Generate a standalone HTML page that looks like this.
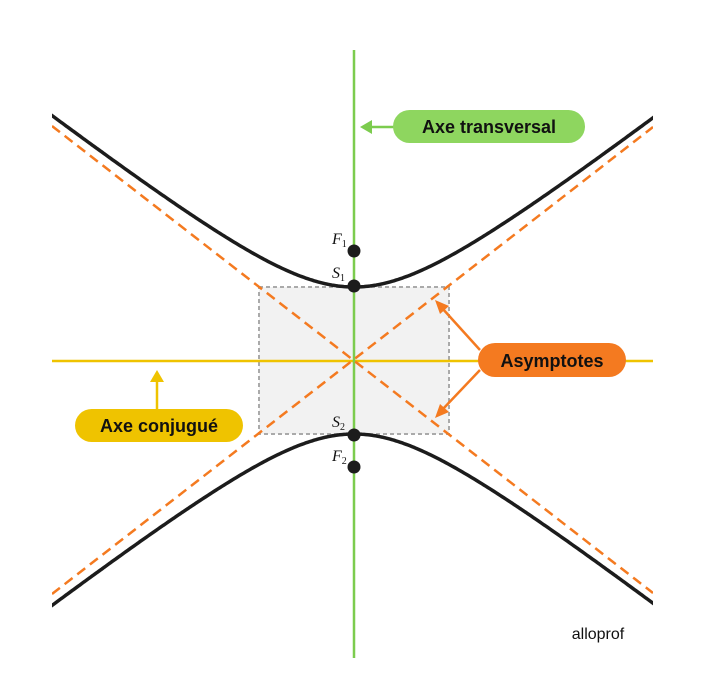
<!DOCTYPE html>
<html><head><meta charset="utf-8">
<style>
html,body{margin:0;padding:0;background:#fff;}
svg{display:block;}
</style></head>
<body>
<svg id="s" width="713" height="690" viewBox="0 0 713 690" xmlns="http://www.w3.org/2000/svg" style="font-family:'Liberation Sans',sans-serif">
<defs><clipPath id="c"><rect x="52" y="40" width="601" height="630"/></clipPath></defs>
<rect x="259" y="287" width="190" height="147" fill="#f2f2f2" stroke="#aaa" stroke-width="2" stroke-dasharray="4,3"/>
<line x1="52" y1="361" x2="653" y2="361" stroke="#efc300" stroke-width="2.5"/>
<line x1="354" y1="50" x2="354" y2="658" stroke="#7ccc4e" stroke-width="2.5"/>
<g clip-path="url(#c)" stroke="#f47a20" stroke-width="2.5" stroke-dasharray="10,6">
<line x1="52" y1="126" x2="653" y2="593"/>
<line x1="52" y1="594" x2="653" y2="127"/>
</g>
<g clip-path="url(#c)" fill="none" stroke="#1c1c1c" stroke-width="3.5">
<path id="h1"/><path id="h2"/>
</g>
<circle cx="354" cy="251" r="6.5" fill="#1c1c1c"/>
<circle cx="354" cy="286" r="6.5" fill="#1c1c1c"/>
<circle cx="354" cy="435" r="6.5" fill="#1c1c1c"/>
<circle cx="354" cy="467" r="6.5" fill="#1c1c1c"/>
<g style="font-family:'Liberation Serif',serif;font-style:italic;font-size:16px" fill="#111">
<text x="332" y="244">F<tspan style="font-style:normal;font-size:10px" dy="3">1</tspan></text>
<text x="332" y="278">S<tspan style="font-style:normal;font-size:10px" dy="3">1</tspan></text>
<text x="332" y="427">S<tspan style="font-style:normal;font-size:10px" dy="3">2</tspan></text>
<text x="332" y="461">F<tspan style="font-style:normal;font-size:10px" dy="3">2</tspan></text>
</g>
<line x1="395" y1="127" x2="368" y2="127" stroke="#7ccc4e" stroke-width="2.5"/>
<polygon points="360,127 372,120 372,134" fill="#7ccc4e"/>
<rect x="393" y="110" width="192" height="33" rx="16.5" fill="#8ed65f"/>
<text x="489" y="133" text-anchor="middle" font-size="18" font-weight="bold" fill="#111">Axe transversal</text>
<g stroke="#f47a20" stroke-width="2.5">
<line x1="480" y1="350" x2="442" y2="308"/>
<line x1="480" y1="370" x2="442" y2="410"/>
</g>
<polygon points="435,300 449,306 440,314" fill="#f47a20"/>
<polygon points="435,418 440,404 449,412" fill="#f47a20"/>
<rect x="478" y="343" width="148" height="34" rx="17" fill="#f47a20"/>
<text x="552" y="367" text-anchor="middle" font-size="18" font-weight="bold" fill="#111">Asymptotes</text>
<line x1="157" y1="410" x2="157" y2="378" stroke="#efc300" stroke-width="2.5"/>
<polygon points="157,370 150,382 164,382" fill="#efc300"/>
<rect x="75" y="409" width="168" height="33" rx="16.5" fill="#efc300"/>
<text x="159" y="432" text-anchor="middle" font-size="18" font-weight="bold" fill="#111">Axe conjugué</text>
<text x="598" y="639" text-anchor="middle" font-size="16" fill="#111">alloprof</text>
</svg>
<script>
var cx=354,cy=360.5,a=95,b=73.5,p1="",p2="";
for(var x=40;x<=666;x+=2){var dy=b*Math.sqrt(1+Math.pow((x-cx)/a,2));
p1+=(x==40?"M":"L")+x+","+(cy-dy).toFixed(1);p2+=(x==40?"M":"L")+x+","+(cy+dy).toFixed(1);}
document.getElementById("h1").setAttribute("d",p1);
document.getElementById("h2").setAttribute("d",p2);
</script>
</body></html>
